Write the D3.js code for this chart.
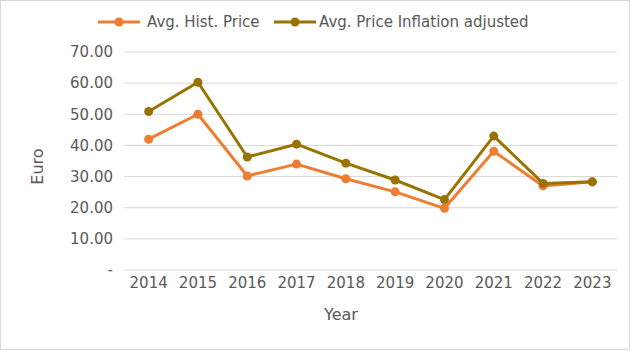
<!DOCTYPE html>
<html>
<head>
<meta charset="utf-8">
<script src="https://cdn.jsdelivr.net/npm/d3@7"></script>
<style>
  body { margin: 0; background: #fff; }
  text { font-family: "DejaVu Sans", sans-serif; fill: #595959; }
</style>
</head>
<body>
<div id="chart"></div>
<script>
// data
const years = ["2014", "2015", "2016", "2017", "2018", "2019", "2020", "2021", "2022", "2023"];
const histPrice = [42.0, 50.0, 30.2, 34.0, 29.3, 25.1, 19.8, 38.1, 27.0, 28.3];
const inflAdjusted = [50.9, 60.3, 36.3, 40.4, 34.3, 28.9, 22.6, 43.0, 27.8, 28.3];
const yTicks = [0, 10, 20, 30, 40, 50, 60, 70];

const W = 631, H = 351;
const margin = { top: 52, right: 14, bottom: 81, left: 124 };
const width = W - margin.left - margin.right,
  height = H - margin.top - margin.bottom;

const svg = d3.select("#chart").append("svg")
  .attr("width", W).attr("height", H);

// chart border
svg.append("rect")
  .attr("x", 0.5).attr("y", 0.5)
  .attr("width", W - 2).attr("height", H - 2)
  .attr("fill", "#fff").attr("stroke", "#d9d9d9");

const g = svg.append("g")
  .attr("transform", "translate(" + margin.left + "," + margin.top + ")");

const x = d3.scaleBand().domain(years).range([0, width]);
const y = d3.scaleLinear().domain([0, 70]).range([height, 0]);

// gridlines
g.selectAll(".grid").data(yTicks).enter().append("line")
  .attr("x1", 0).attr("x2", width)
  .attr("y1", d => y(d)).attr("y2", d => y(d))
  .attr("stroke", "#d9d9d9").attr("stroke-width", 1);

// y tick labels
const yAxis = g.append("g")
  .call(d3.axisLeft(y).tickValues(yTicks).tickSize(0).tickPadding(11)
    .tickFormat(d => d === 0 ? "-" : d3.format(".2f")(d)));
yAxis.select(".domain").remove();
yAxis.attr("font-size", null).attr("font-family", null);
yAxis.selectAll("text").style("font-size", "15px").style("fill", "#595959");

// x tick labels
const xAxis = g.append("g")
  .attr("transform", "translate(0," + height + ")")
  .call(d3.axisBottom(x).tickSize(0).tickPadding(7));
xAxis.select(".domain").remove();
xAxis.attr("font-size", null).attr("font-family", null);
xAxis.selectAll("text").style("font-size", "15px").style("fill", "#595959");

// axis titles
svg.append("text")
  .attr("transform", "translate(43,166.5) rotate(-90)")
  .attr("text-anchor", "middle")
  .style("font-size", "16px")
  .text("Euro");

svg.append("text")
  .attr("x", 341)
  .attr("y", 320)
  .attr("text-anchor", "middle")
  .style("font-size", "16px")
  .text("Year");

const series = [
  { name: "Avg. Hist. Price", values: histPrice, color: "#ed7d31" },
  { name: "Avg. Price Inflation adjusted", values: inflAdjusted, color: "#997300" }
];

const line = d3.line()
  .x((d, i) => x(years[i]) + x.bandwidth() / 2)
  .y(d => y(d));

series.forEach(function (s) {
  g.append("path")
    .datum(s.values)
    .attr("fill", "none")
    .attr("stroke", s.color)
    .attr("stroke-width", 3)
    .attr("stroke-linejoin", "round")
    .attr("d", line);

  g.selectAll(null).data(s.values).enter().append("circle")
    .attr("cx", (d, i) => x(years[i]) + x.bandwidth() / 2)
    .attr("cy", d => y(d))
    .attr("r", 4.5)
    .attr("fill", s.color);
});

// legend
const legendPos = [{ x: 98, t: 147 }, { x: 274, t: 319 }];
series.forEach(function (s, i) {
  const lg = svg.append("g");
  lg.append("line")
    .attr("x1", legendPos[i].x).attr("x2", legendPos[i].x + 42)
    .attr("y1", 22).attr("y2", 22)
    .attr("stroke", s.color).attr("stroke-width", 3);
  lg.append("circle")
    .attr("cx", legendPos[i].x + 21).attr("cy", 22).attr("r", 4.5)
    .attr("fill", s.color);
  lg.append("text")
    .attr("x", legendPos[i].t).attr("y", 27)
    .style("font-size", "15px")
    .text(s.name);
});
</script>
</body>
</html>
